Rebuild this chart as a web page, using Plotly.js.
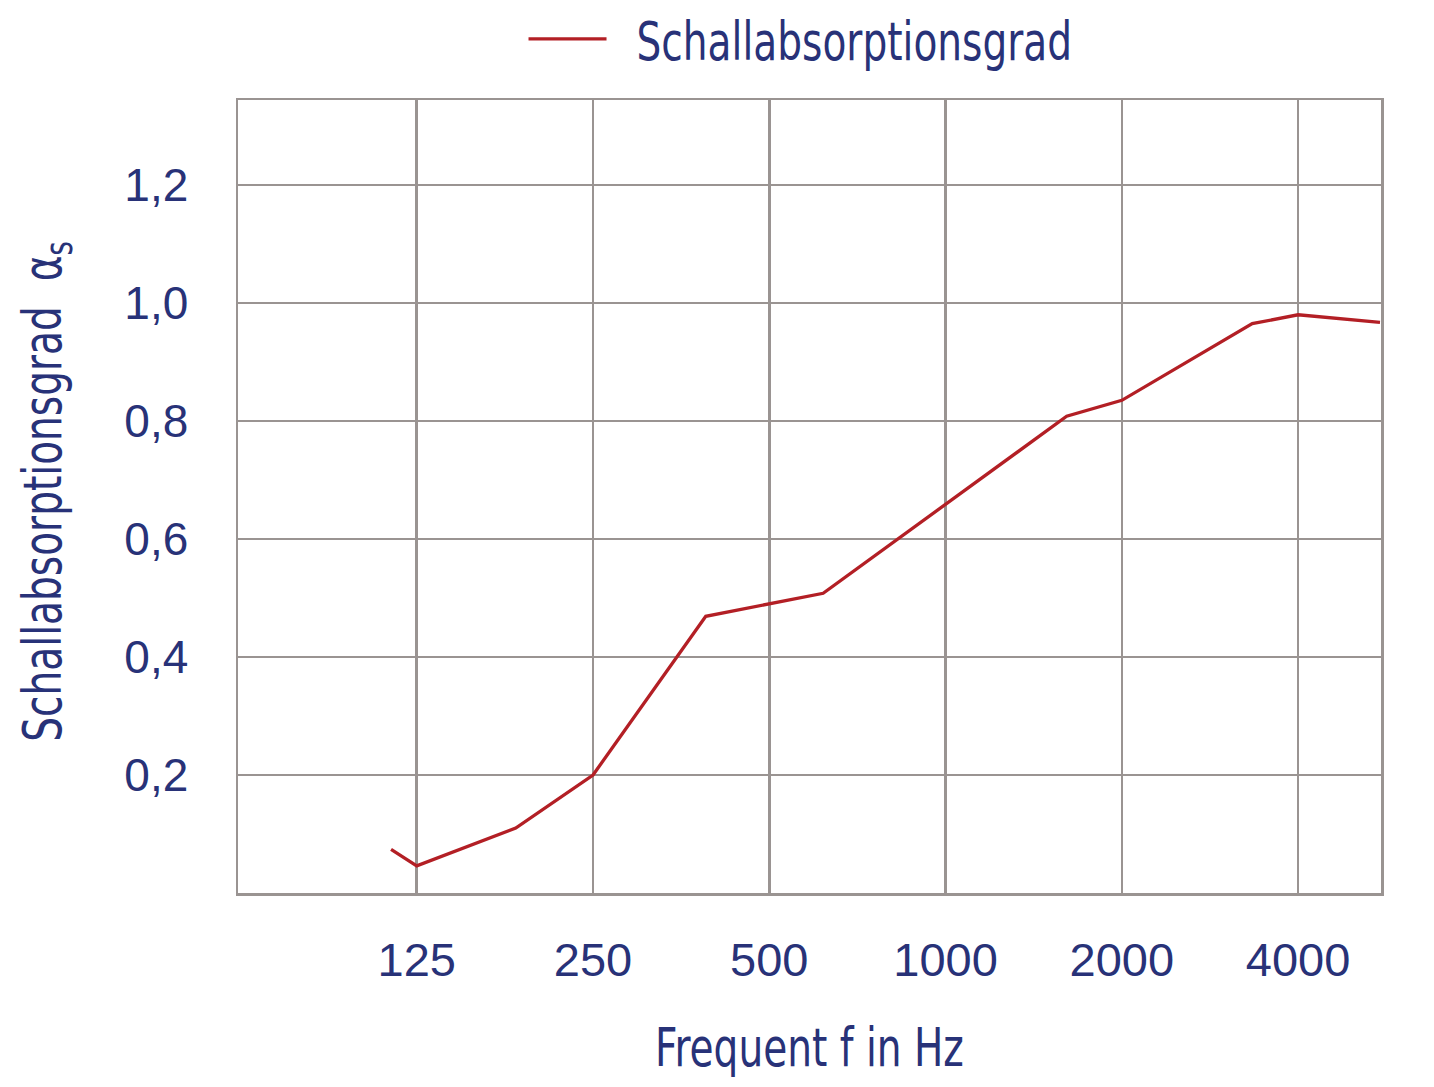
<!DOCTYPE html>
<html>
<head>
<meta charset="utf-8">
<script src="https://cdn.plot.ly/plotly-3.0.1.min.js"></script>
<style>
  html, body { margin: 0; padding: 0; background: #ffffff; }
  #chart { width: 1434px; height: 1087px; }
</style>
</head>
<body>
<div id="chart"></div>
<script>
// Data
const frequencies = [113, 125, 184.5, 250, 389.5, 618, 1610, 2000, 3340, 4000, 5519];
const absorption  = [0.074, 0.046, 0.110, 0.200, 0.469, 0.508, 0.808, 0.835, 0.965, 0.980, 0.967];
const xTickVals   = [125, 250, 500, 1000, 2000, 4000];
const xTickText   = ['125', '250', '500', '1000', '2000', '4000'];
const yTickVals   = [0.2, 0.4, 0.6, 0.8, 1.0, 1.2];
const yTickText   = ['0,2', '0,4', '0,6', '0,8', '1,0', '1,2'];
const seriesName  = 'Schallabsorptionsgrad';

const navy = '#283278';
const grid = '#9a9492';
const narrow = 'DejaVu Sans Condensed, Liberation Sans Narrow, sans-serif';
const regular = 'Liberation Sans, Arial, Helvetica, sans-serif';
const SQUEEZE = 0.82;

const trace = {
  x: frequencies,
  y: absorption,
  type: 'scatter',
  mode: 'lines',
  name: seriesName,
  line: { color: '#b31f25', width: 3.3 },
  hoverinfo: 'x+y'
};

const layout = {
  width: 1434,
  height: 1087,
  paper_bgcolor: '#ffffff',
  plot_bgcolor: '#ffffff',
  margin: { l: 238, r: 53, t: 100, b: 194 },
  showlegend: true,
  legend: {
    orientation: 'h',
    x: 0.2498, xanchor: 'left', xref: 'paper',
    y: 0.9642, yanchor: 'middle', yref: 'container',
    font: { family: narrow, size: 53, color: navy },
    bgcolor: 'rgba(0,0,0,0)'
  },
  xaxis: {
    type: 'log',
    range: [Math.log10(61.9), Math.log10(5541)],
    tickvals: xTickVals,
    ticktext: xTickText,
    ticks: '',
    ticklabelstandoff: 24,
    tickfont: { family: regular, size: 47, color: navy },
    showgrid: true,
    gridcolor: grid,
    gridwidth: 2.5,
    showline: true,
    linecolor: grid,
    linewidth: 2.5,
    mirror: true,
    zeroline: false,
    title: {
      text: 'Frequent f in Hz',
      font: { family: narrow, size: 53, color: navy },
      standoff: 44
    },
    automargin: false
  },
  yaxis: {
    range: [0, 1.344],
    tickvals: yTickVals,
    ticktext: yTickText,
    ticks: '',
    ticklabelstandoff: 38,
    tickfont: { family: regular, size: 46, color: navy },
    showgrid: true,
    gridcolor: grid,
    gridwidth: 2.5,
    showline: true,
    linecolor: grid,
    linewidth: 2.5,
    mirror: true,
    zeroline: false,
    title: {
      text: 'Schallabsorptionsgrad  α<sub>s</sub>',
      font: { family: narrow, size: 53, color: navy },
      standoff: 46
    },
    automargin: false
  }
};

// Condensed-type styling: squeeze the narrow-font texts horizontally,
// lengthen the legend line sample.
function condense(gd) {
  const xt = gd.querySelector('.g-xtitle text');
  if (xt) {
    const x = parseFloat(xt.getAttribute('x'));
    const prev = xt.getAttribute('transform') || '';
    xt.setAttribute('transform', prev + ` translate(${x},0) scale(${SQUEEZE},1) translate(${-x},0)`);
  }
  const yt = gd.querySelector('.g-ytitle text');
  if (yt) {
    const x = parseFloat(yt.getAttribute('x'));
    const y = parseFloat(yt.getAttribute('y'));
    const prev = yt.getAttribute('transform') || '';
    yt.setAttribute('transform', prev + ` translate(5,0) translate(${x},${y}) scale(${SQUEEZE},1) translate(${-x},${-y})`);
  }
  gd.querySelectorAll('.legend .traces').forEach(function (g) {
    const p = g.querySelector('.legendlines path');
    if (p) p.setAttribute('d', 'M5,0h78');
    const t = g.querySelector('.legendtext');
    if (t) {
      const tx = 113;
      t.setAttribute('x', tx);
      t.setAttribute('transform', `translate(${tx},0) scale(${SQUEEZE},1) translate(${-tx},0)`);
    }
  });
  const sb = gd.querySelector('.legend .scrollbox');
  if (sb) sb.removeAttribute('clip-path');
}

Plotly.newPlot('chart', [trace], layout, { displayModeBar: false, staticPlot: true })
  .then(condense);
</script>
</body>
</html>
